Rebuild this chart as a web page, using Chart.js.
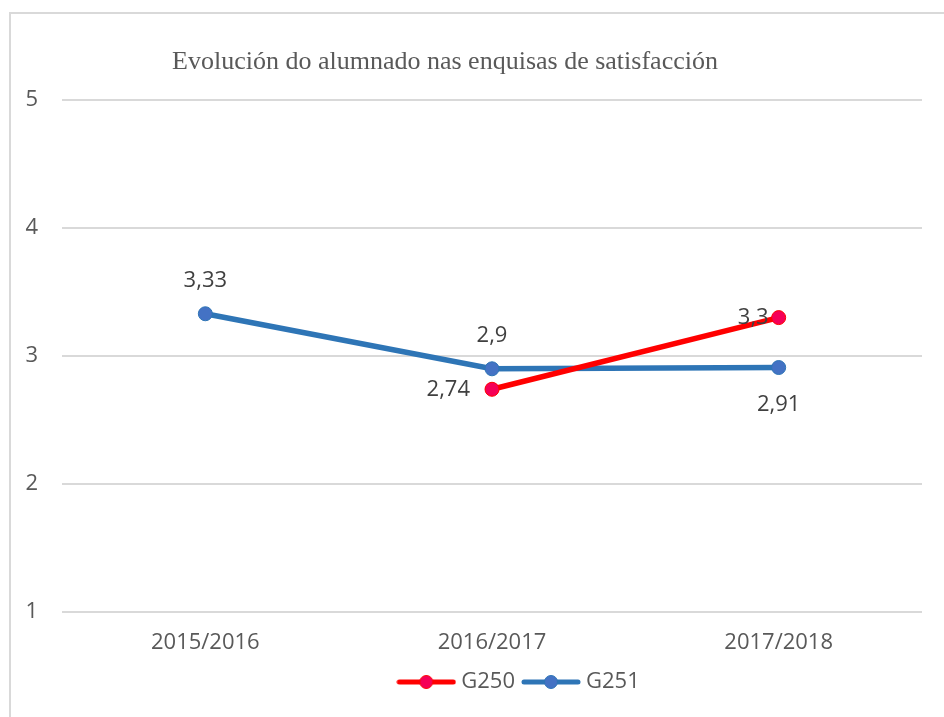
<!DOCTYPE html>
<html>
<head>
<meta charset="utf-8">
<script src="https://cdn.jsdelivr.net/npm/chart.js@4.4.1/dist/chart.umd.min.js"></script>
<style>
  html, body { margin: 0; padding: 0; background: #fff; }
  canvas { display: block; }
</style>
</head>
<body>
<canvas id="myChart" width="944" height="717"></canvas>
<script>
// Datos do gráfico
const cursos = ['2015/2016', '2016/2017', '2017/2018'];
const g250 = [null, 2.74, 3.3];
const g251 = [3.33, 2.9, 2.91];
const tickValores = [1, 2, 3, 4, 5];

// onde vai cada etiqueta respecto do punto
const posG250 = [null, 'left', 'leftNear'];
const posG251 = ['above', 'above', 'below'];

const titulo = 'Evolución do alumnado nas enquisas de satisfacción';
const gris = '#595959';
const fonte = '"Open Sans", "Liberation Sans", sans-serif';

// marcador da lenda: liña con círculo
function marcador(cor, recheo) {
    const c = document.createElement('canvas');
    c.width = 60; c.height = 16;
    const g = c.getContext('2d');
    g.strokeStyle = cor;
    g.lineWidth = 5;
    g.lineCap = 'round';
    g.beginPath();
    g.moveTo(3, 8); g.lineTo(57, 8);
    g.stroke();
    g.beginPath();
    g.arc(30, 8, 6.5, 0, Math.PI * 2);
    g.fillStyle = recheo;
    g.fill();
    g.lineWidth = 1;
    g.stroke();
    return c;
}

const fondoPlugin = {
    id: 'fondo',
    afterLayout(chart) {
        // a lenda vai algo desprazada á dereita, coma no orixinal
        chart.legend.left += 50;
        chart.legend.right += 50;
    },
    beforeDraw(chart) {
        const ctx = chart.ctx;
        ctx.save();
        ctx.fillStyle = '#fff';
        ctx.fillRect(0, 0, chart.width, chart.height);
        ctx.strokeStyle = '#d9d9d9';
        ctx.lineWidth = 2;
        ctx.beginPath();
        ctx.moveTo(10, chart.height);
        ctx.lineTo(10, 13);
        ctx.lineTo(chart.width, 13);
        ctx.stroke();
        // título
        ctx.fillStyle = gris;
        ctx.font = '26px "Liberation Serif", "DejaVu Serif", serif';
        ctx.textAlign = 'center';
        ctx.textBaseline = 'middle';
        ctx.fillText(titulo, 445, 62);
        ctx.restore();
    }
};

const etiquetasPlugin = {
    id: 'etiquetas',
    afterDatasetsDraw(chart) {
        const ctx = chart.ctx;
        ctx.save();
        ctx.font = '22px ' + fonte;
        ctx.fillStyle = '#404040';
        ctx.textBaseline = 'middle';
        chart.data.datasets.forEach((ds, i) => {
            const meta = chart.getDatasetMeta(i);
            meta.data.forEach((p, j) => {
                const v = ds.data[j];
                if (v === null) return;
                const txt = String(v).replace('.', ',');
                const pos = ds.posEtiquetas[j];
                let x = p.x, y = p.y;
                ctx.textAlign = 'center';
                if (pos === 'above') y -= 33;
                else if (pos === 'below') y += 37;
                else if (pos === 'left') { ctx.textAlign = 'right'; x -= 22; }
                else if (pos === 'leftNear') { ctx.textAlign = 'right'; x -= 10; }
                ctx.fillText(txt, x, y);
            });
        });
        ctx.restore();
    }
};

const ctx = document.getElementById('myChart').getContext('2d');
const grafico = new Chart(ctx, {
    type: 'line',
    data: {
        labels: cursos,
        datasets: [{
            label: 'G250',
            data: g250,
            posEtiquetas: posG250,
            borderColor: '#ff0000',
            backgroundColor: '#ff0000',
            borderWidth: 5.5,
            pointRadius: 7,
            pointBackgroundColor: '#f50057',
            pointBorderColor: '#ff0000',
            pointBorderWidth: 1,
            pointStyle: 'circle',
            tension: 0
        }, {
            label: 'G251',
            data: g251,
            posEtiquetas: posG251,
            borderColor: '#2e75b6',
            backgroundColor: '#2e75b6',
            borderWidth: 5.5,
            pointRadius: 7,
            pointBackgroundColor: '#4472c4',
            pointBorderColor: '#2e75b6',
            pointBorderWidth: 1,
            tension: 0
        }]
    },
    options: {
        responsive: false,
        animation: false,
        layout: { padding: { left: 20, right: 22, top: 100, bottom: 14 } },
        plugins: {
            title: { display: false },
            tooltip: { enabled: false },
            legend: {
                position: 'bottom',
                labels: {
                    usePointStyle: true,
                    pointStyleWidth: 48,
                    color: gris,
                    font: { family: fonte, size: 22 },
                    padding: 12,
                    generateLabels(chart) {
                        const cols = [['#ff0000', '#f50057'], ['#2e75b6', '#4472c4']];
                        return chart.data.datasets.map((ds, i) => ({
                            text: ds.label,
                            pointStyle: marcador(cols[i][0], cols[i][1]),
                            fontColor: gris,
                            lineWidth: 0,
                            strokeStyle: 'transparent',
                            fillStyle: 'transparent',
                            datasetIndex: i
                        }));
                    }
                }
            }
        },
        scales: {
            x: {
                offset: true,
                grid: { display: false, drawTicks: false },
                border: { display: false },
                ticks: { color: gris, font: { family: fonte, size: 22 }, padding: 18 },
                afterFit(s) { s.height = 47; }
            },
            y: {
                min: 1,
                max: 5,
                afterBuildTicks(s) { s.ticks = tickValores.map(v => ({ value: v })); },
                grid: { color: '#d9d9d9', lineWidth: 2, drawTicks: false },
                border: { display: false },
                ticks: { color: gris, font: { family: fonte, size: 22 }, padding: 24 },
                afterFit(s) { s.width = 42; }
            }
        }
    },
    plugins: [fondoPlugin, etiquetasPlugin]
});
</script>
</body>
</html>
